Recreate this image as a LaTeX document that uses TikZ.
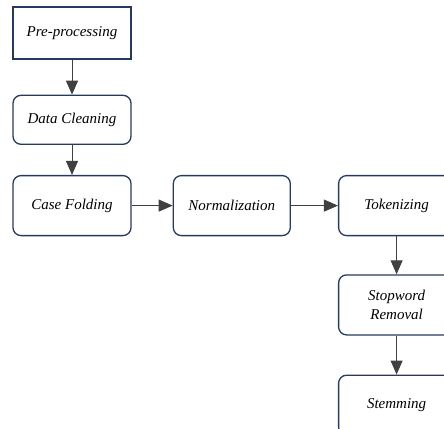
\documentclass[tikz,border=0pt]{standalone}
\usepackage{fontspec}
\setmainfont{Liberation Serif}
\usetikzlibrary{positioning,arrows.meta}
\definecolor{boxline}{RGB}{38,58,96}

\begin{document}
\begin{tikzpicture}[x=1pt,y=1pt,stage/.style={
rectangle,rounded corners=8pt, % rounded boxes
line width=1.3pt,draw=boxline,fill=white,
minimum width=118pt,minimum height=60pt,
align=center,font=\fontsize{15}{19}\selectfont\itshape}]

\tikzset{
  flow/.style={line width=1pt,draw=black!75,-{Triangle[length=14pt,width=12pt]}}
}

    \clip (0,0) rectangle (444,-428);

    \node[stage,sharp corners,minimum height=52pt] at (72,-33) (pre) {Pre-processing};
    \node[stage,minimum height=49pt,below=35pt of pre] (clean) {Data Cleaning};
    \node[stage,below=30pt of clean] (fold) {Case Folding};
    \node[stage,minimum width=117pt,right=41pt of fold] (norm) {Normalization};
    \node[stage,minimum width=116pt,right=47pt of norm] (token) {Tokenizing};
    \node[stage,minimum width=116pt,below=38pt of token] (stop) {Stopword\\Removal};
    \node[stage,minimum width=116pt,below=39pt of stop] (stem) {Stemming};

    \draw[flow] (pre) -- (clean);
    \draw[flow] (clean) -- (fold);
    \draw[flow] (fold) -- (norm);
    \draw[flow] (norm) -- (token);
    \draw[flow] (token) -- (stop);
    \draw[flow] (stop) -- (stem);

\end{tikzpicture}
\end{document}
